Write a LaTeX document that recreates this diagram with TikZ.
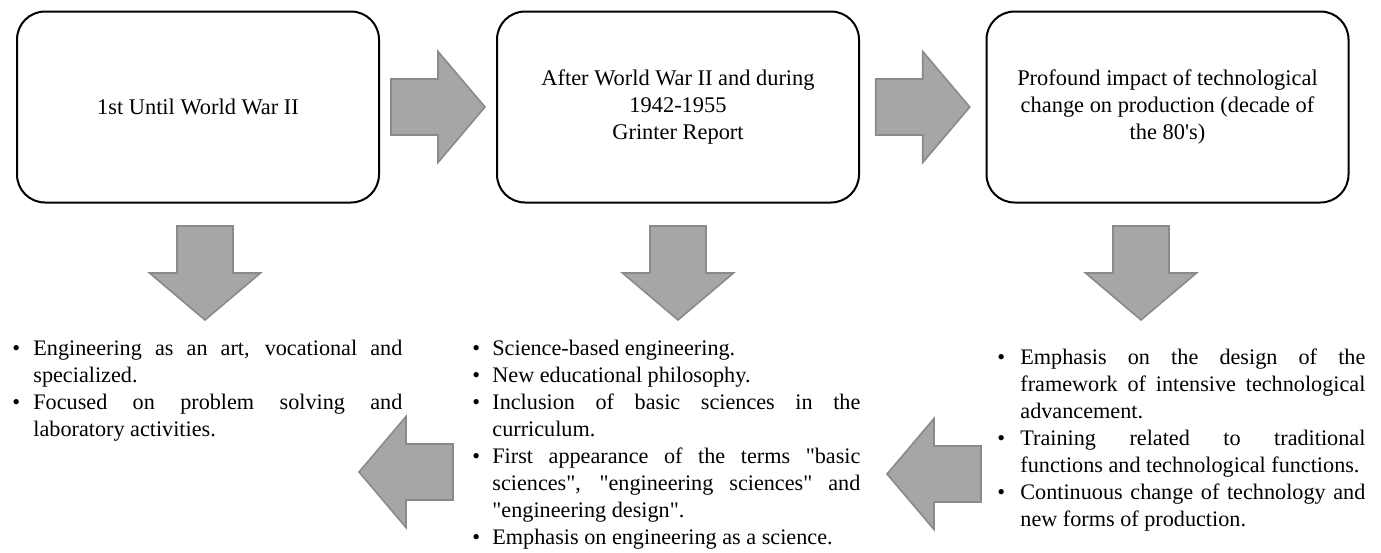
\documentclass[tikz,border=0pt]{standalone}
\usepackage{fontspec}
\newfontfamily\timesfont{Liberation Serif}
\definecolor{ArrowGray}{HTML}{A6A6A6}
\definecolor{ArrowEdge}{HTML}{8A8A8A}
\usetikzlibrary{calc}
\hyphenpenalty=10000
\newcommand{\bitem}[1]{\par\noindent\hangindent=#1\hbox to #1{\textbullet\hfil}\ignorespaces}

\tikzset{
  stagebox/.style={draw, line width=1pt, rounded corners=14pt,
    minimum width=181pt, minimum height=95.5pt, align=center,
    font=\timesfont\fontsize{11.2}{13.5}\selectfont},
  bulletlist/.style={anchor=north west, inner sep=0pt, align=justify,
    font=\timesfont\fontsize{11.1}{13.5}\selectfont},
  blockarrow/.pic={
    \draw[ArrowEdge, fill=ArrowGray, line width=0.8pt, line join=miter]
      (-47,28) -- (0,28) -- (0,55.5) -- (47,0) -- (0,-55.5) -- (0,-28) -- (-47,-28) -- cycle;
  }
}

\begin{document}
\begin{tikzpicture}[x=0.5pt, y=-0.5pt]
  \useasboundingbox (0,0) rectangle (1381,552);

  \node[stagebox] (stage1) at (198,107) {1st Until World War II};
  \node[stagebox] (stage2) at (678,107) {After World War II and during\\ 1942-1955\\ Grinter Report};
  \node[stagebox] (stage3) at (1167.5,107) {Profound impact of technological\\ change on production (decade of\\ the 80's)};

  \pic at ($(stage1.east)!0.5!(stage2.west)$) {blockarrow};
  \pic at ($(stage2.east)!0.5!(stage3.west)$) {blockarrow};

  \pic[rotate=-90] at (205,273) {blockarrow};
  \pic[rotate=-90] at (678,273) {blockarrow};
  \pic[rotate=-90] at (1141,273) {blockarrow};

  \node[bulletlist, text width=195pt] (list1) at (12,328) {%
    \bitem{10.5pt} Engineering as an art, vocational and\linebreak specialized.
    \bitem{10.5pt} Focused on problem solving and\linebreak laboratory activities.\par};
  \node[bulletlist, text width=194pt] (list2) at (472,328) {%
    \bitem{10pt} Science-based engineering.
    \bitem{10pt} New educational philosophy.
    \bitem{10pt} Inclusion of basic sciences in the\linebreak curriculum.
    \bitem{10pt} First appearance of the terms "basic\linebreak sciences", "engineering sciences" and\linebreak "engineering design".
    \bitem{10pt} Emphasis on engineering as a science.\par};
  \node[bulletlist, text width=184pt] (list3) at (997,337) {%
    \bitem{11.5pt} Emphasis on the design of the\linebreak framework of intensive technological\linebreak advancement.
    \bitem{11.5pt} Training related to traditional\linebreak functions and technological functions.
    \bitem{11.5pt} Continuous change of technology and\linebreak new forms of production.\par};

  \pic[rotate=180] at (406,472) {blockarrow};
  \pic[rotate=180] at (934,474) {blockarrow};
\end{tikzpicture}
\end{document}
